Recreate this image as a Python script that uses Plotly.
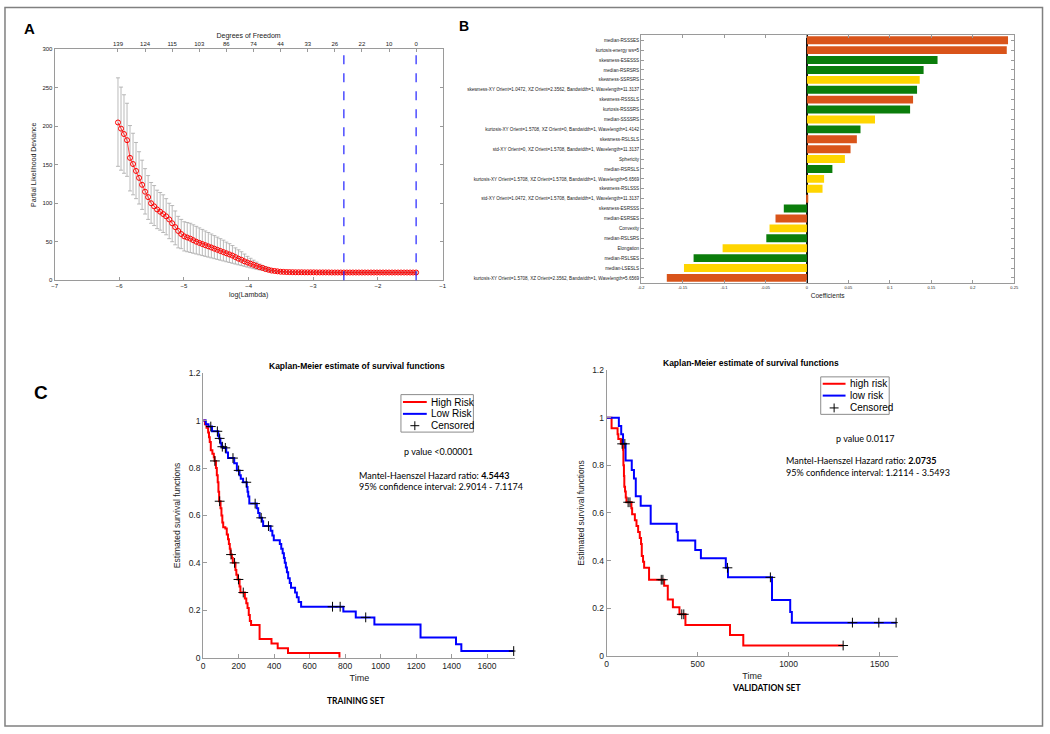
import plotly.graph_objects as go

W, H = 1050, 734

# ---------------- panel A : lasso cross-validation ----------------
log_lambda = [
    -6.020, -5.973, -5.927, -5.880, -5.834, -5.787, -5.741, -5.694, -5.647, -5.601,
    -5.554, -5.508, -5.461, -5.415, -5.368, -5.321, -5.275, -5.228, -5.182, -5.135,
    -5.089, -5.042, -4.995, -4.949, -4.902, -4.856, -4.809, -4.763, -4.716, -4.670,
    -4.623, -4.576, -4.530, -4.483, -4.437, -4.390, -4.344, -4.297, -4.250, -4.204,
    -4.157, -4.111, -4.064, -4.018, -3.971, -3.924, -3.878, -3.831, -3.785, -3.738,
    -3.692, -3.645, -3.598, -3.552, -3.505, -3.459, -3.412, -3.366, -3.319, -3.273,
    -3.226, -3.179, -3.133, -3.086, -3.040, -2.993, -2.947, -2.900, -2.853, -2.807,
    -2.760, -2.714, -2.667, -2.621, -2.574, -2.527, -2.481, -2.434, -2.388, -2.341,
    -2.295, -2.248, -2.202, -2.155, -2.108, -2.062, -2.015, -1.969, -1.922, -1.876,
    -1.829, -1.782, -1.736, -1.689, -1.643, -1.596, -1.550, -1.503, -1.457, -1.410,
]
deviance = [
    205, 197, 190, 182, 159, 151, 142, 133, 124, 115,
    108, 100, 96, 92, 89, 86, 83, 79, 74, 69,
    64, 60, 57, 55.5, 54, 52, 50, 48.5, 47, 45.5,
    44, 42.5, 41, 39.5, 38, 36.5, 35, 33.5, 32, 30,
    28, 26.5, 24.5, 23, 21.5, 20, 18.5, 17, 16, 14.5,
    13.5, 12.5, 12, 11.5, 11, 10.8, 10.6, 10.5, 10.4, 10.3,
    10.3, 10.3, 10.2, 10.2, 10.2, 10.2, 10.1, 10.1, 10.1, 10.1,
    10.1, 10.0, 10.0, 10.0, 10.0, 10.0, 10.0, 10.0, 10.0, 10.0,
    10.0, 10.0, 10.0, 10.0, 10.0, 10.0, 10.0, 10.0, 10.0, 10.0,
    10.0, 10.0, 10.0, 10.0, 10.0, 10.0, 10.0, 10.0, 10.0, 10.0,
]
dev_upper = [
    263, 251, 241, 230, 201, 191, 179, 167, 156, 145,
    136, 127, 123, 117, 114, 111, 106, 100, 97, 90,
    83, 79, 76, 75, 74, 72, 70, 68, 66, 64,
    62, 60, 58, 56, 54, 52, 49.5, 47.5, 45, 42,
    39.5, 37, 34, 31, 28.5, 26, 23.5, 21, 19, 17.5,
    16, 14.5, 13, 12, 11.8, 11.6, 11.5, 11.4, 11.3, 11.2,
    11.2, 11.2, 11.1, 11.1, 11.1, 11.1, 11.0, 11.0, 11.0, 11.0,
    11.0, 10.9, 10.9, 10.9, 10.9, 10.9, 10.9, 10.9, 10.9, 10.9,
    10.9, 10.9, 10.9, 10.9, 10.9, 10.9, 10.9, 10.9, 10.9, 10.9,
    10.9, 10.9, 10.9, 10.9, 10.9, 10.9, 10.9, 10.9, 10.9, 10.9,
]
dev_lower = [
    148, 143, 139, 135, 116, 111, 106, 99, 92, 86,
    79, 74, 71, 67, 65, 62, 59, 54, 50, 46,
    42, 41, 38, 37, 36, 35, 34, 33, 32, 31,
    30, 29, 28, 27, 26, 25, 24, 23, 22, 21,
    20, 19, 18, 17, 16, 15, 14.2, 13.5, 13, 12.2,
    11.5, 11, 10.5, 10, 9.8, 9.6, 9.5, 9.5, 9.4, 9.4,
    9.4, 9.4, 9.3, 9.3, 9.3, 9.3, 9.2, 9.2, 9.2, 9.2,
    9.2, 9.1, 9.1, 9.1, 9.1, 9.1, 9.1, 9.1, 9.1, 9.1,
    9.1, 9.1, 9.1, 9.1, 9.1, 9.1, 9.1, 9.1, 9.1, 9.1,
    9.1, 9.1, 9.1, 9.1, 9.1, 9.1, 9.1, 9.1, 9.1, 9.1,
]
df_tick_lambda = [-6.020, -5.601, -5.182, -4.763, -4.344, -3.924,
                  -3.505, -3.086, -2.667, -2.248, -1.829, -1.410]
df_labels = ["139", "124", "115", "103", "86", "74", "44", "33", "26", "22", "10", "0"]
lambda_marks = [-2.527, -1.410]

# ---------------- panel B : lasso coefficients ----------------
features = [
    "median-RSSSES",
    "kurtosis-energy ws=5",
    "skewness-ESESSS",
    "median-RSRSRS",
    "skewness-SSRSRS",
    "skewness-XY Orient=1.0472, XZ Orient=2.3562, Bandwidth=1, Wavelength=11.3137",
    "skewness-RSSSLS",
    "kurtosis-RSSSRS",
    "median-SSSSRS",
    "kurtosis-XY Orient=1.5708, XZ Orient=0, Bandwidth=1, Wavelength=1.4142",
    "skewness-RSLSLS",
    "std-XY Orient=0, XZ Orient=1.5708, Bandwidth=1, Wavelength=11.3137",
    "Sphericity",
    "median-RSRSLS",
    "kurtosis-XY Orient=1.5708, XZ Orient=1.5708, Bandwidth=1, Wavelength=5.6569",
    "skewness-RSLSSS",
    "std-XY Orient=1.0472, XZ Orient=1.5708, Bandwidth=1, Wavelength=11.3137",
    "skewness-ESRSSS",
    "median-ESRSES",
    "Convexity",
    "median-RSLSRS",
    "Elongation",
    "median-RSLSES",
    "median-LSESLS",
    "kurtosis-XY Orient=1.5708, XZ Orient=2.3562, Bandwidth=1, Wavelength=5.6569",
]
coefs = [0.2425, 0.241, 0.1575, 0.1407, 0.136, 0.1328, 0.128, 0.1244, 0.0821, 0.0646,
         0.0602, 0.0526, 0.0458, 0.0307, 0.0207, 0.0188, 0.0016, -0.0279, -0.0379,
         -0.0451, -0.049, -0.1017, -0.1367, -0.1483, -0.169]
groups = ["O", "O", "G", "G", "Y", "G", "O", "G", "Y", "G", "O", "O", "Y",
          "G", "Y", "Y", "O", "G", "O", "Y", "G", "Y", "G", "Y", "O"]
coef_ticks = [-0.2, -0.15, -0.1, -0.05, 0, 0.05, 0.1, 0.15, 0.2, 0.25]
coef_tick_text = ["-0.2", "-0.15", "-0.1", "-0.05", "0", "0.05", "0.1", "0.15", "0.2", "0.25"]

# ---------------- panel C : Kaplan-Meier ----------------
train_high_t = [0, 10, 19, 28, 33, 37, 43, 52, 60, 64, 72, 77, 82, 86, 90, 98, 103, 108, 113, 125,
                133, 140, 145, 150, 154, 162, 167, 182, 187, 194, 205, 210, 235, 243, 250, 257,
                263, 270, 318, 385, 420, 478, 768]
train_high_s = [1.0, 0.985, 0.97, 0.95, 0.93, 0.91, 0.875, 0.86, 0.845, 0.83, 0.80, 0.77, 0.74,
                0.70, 0.66, 0.63, 0.60, 0.57, 0.55, 0.545, 0.52, 0.50, 0.48, 0.46, 0.435, 0.42,
                0.40, 0.37, 0.35, 0.33, 0.30, 0.275, 0.25, 0.23, 0.21, 0.18, 0.155, 0.138,
                0.079, 0.06, 0.04, 0.02, 0.0]
train_high_cens_t = [66, 93, 157, 177, 199, 226]
train_high_cens_s = [0.83, 0.66, 0.435, 0.40, 0.33, 0.275]

train_low_t = [0, 15, 30, 50, 85, 90, 97, 103, 112, 130, 140, 175, 190, 205, 212, 225, 246, 250,
               254, 260, 302, 310, 318, 332, 338, 380, 390, 398, 432, 440, 448, 455, 460, 466,
               472, 479, 488, 495, 518, 528, 538, 552, 790, 860, 965, 1225, 1425, 1455, 1750]
train_low_s = [1.0, 0.985, 0.975, 0.955, 0.935, 0.925, 0.905, 0.89, 0.885, 0.865, 0.842, 0.82,
               0.79, 0.77, 0.755, 0.74, 0.72, 0.70, 0.68, 0.65, 0.63, 0.61, 0.59, 0.575, 0.555,
               0.535, 0.515, 0.495, 0.48, 0.46, 0.44, 0.42, 0.40, 0.38, 0.36, 0.335, 0.315,
               0.295, 0.275, 0.255, 0.235, 0.215, 0.195, 0.17, 0.14, 0.085, 0.057, 0.028, 0.028]
train_low_cens_t = [43, 80, 93, 108, 125, 168, 200, 243, 293, 327, 368, 729, 772, 916, 1750]
train_low_cens_s = [0.975, 0.955, 0.925, 0.89, 0.885, 0.842, 0.79, 0.74, 0.65, 0.59, 0.555,
                    0.215, 0.215, 0.17, 0.028]

val_high_t = [0, 27, 60, 64, 78, 90, 92, 95, 97, 101, 105, 109, 136, 140, 155, 164, 173, 182,
              189, 193, 200, 206, 233, 316, 336, 364, 400, 433, 678, 751, 1300]
val_high_s = [1.0, 0.955, 0.93, 0.91, 0.89, 0.865, 0.80, 0.755, 0.71, 0.69, 0.665, 0.645, 0.62,
              0.595, 0.57, 0.545, 0.52, 0.495, 0.47, 0.42, 0.395, 0.37, 0.32, 0.295, 0.237,
              0.205, 0.175, 0.13, 0.088, 0.044, 0.044]
val_high_cens_t = [85, 118, 128, 300, 309, 413, 424, 1300]
val_high_cens_s = [0.89, 0.645, 0.645, 0.32, 0.32, 0.175, 0.175, 0.044]

val_low_t = [0, 67, 80, 90, 104, 138, 150, 160, 187, 242, 385, 391, 487, 518, 655, 667, 909,
             1009, 1018, 1591]
val_low_s = [1.0, 0.965, 0.93, 0.89, 0.82, 0.78, 0.745, 0.67, 0.63, 0.555, 0.52, 0.485, 0.445,
             0.41, 0.37, 0.33, 0.235, 0.185, 0.14, 0.14]
val_low_cens_t = [100, 664, 900, 1351, 1496, 1591]
val_low_cens_s = [0.89, 0.37, 0.33, 0.14, 0.14, 0.14]


def fx(x):
    return x / W


def fy(y):
    return 1 - y / H


gray = "#9a9a9a"
txt = "#222222"
group_colors = {"O": "#D9541A", "G": "#0B7D0B", "Y": "#FFD500"}

fig = go.Figure()

# A
err_plus = [u - m for u, m in zip(dev_upper, deviance)]
err_minus = [m - l for m, l in zip(deviance, dev_lower)]
fig.add_trace(go.Scatter(
    x=log_lambda, y=deviance, mode="lines+markers", xaxis="x", yaxis="y",
    line=dict(color="red", width=0.7),
    marker=dict(symbol="circle-open", size=5, color="red", line=dict(width=1)),
    error_y=dict(type="data", symmetric=False, array=err_plus, arrayminus=err_minus,
                 color="#a8a8a8", thickness=0.8, width=2),
    showlegend=False))
# same points on the top (degrees of freedom) axis, invisible, so that axis gets drawn
fig.add_trace(go.Scatter(x=log_lambda, y=deviance, mode="lines", xaxis="x2", yaxis="y",
                         line=dict(width=0), opacity=0, hoverinfo="skip", showlegend=False))

# B
fig.add_trace(go.Bar(
    x=coefs, y=features, orientation="h", xaxis="x3", yaxis="y3", width=0.8,
    marker=dict(color=[group_colors[g] for g in groups], line=dict(width=0)),
    showlegend=False))


# C
def km(t, s, color, ax):
    fig.add_trace(go.Scatter(x=t, y=s, mode="lines", line=dict(color=color, width=2, shape="hv"),
                             xaxis="x" + ax, yaxis="y" + ax, showlegend=False))


def cens(t, s, ax):
    fig.add_trace(go.Scatter(x=t, y=s, mode="markers", xaxis="x" + ax, yaxis="y" + ax,
                             marker=dict(symbol="cross-thin", size=7, color="black",
                                         line=dict(color="black", width=1)),
                             showlegend=False))


km(train_high_t, train_high_s, "#FF0000", "4")
km(train_low_t, train_low_s, "#0000FF", "4")
cens(train_high_cens_t, train_high_cens_s, "4")
cens(train_low_cens_t, train_low_cens_s, "4")
km(val_high_t, val_high_s, "#FF0000", "5")
km(val_low_t, val_low_s, "#0000FF", "5")
cens(val_high_cens_t, val_high_cens_s, "5")
cens(val_low_cens_t, val_low_cens_s, "5")

base = dict(showline=True, linecolor=gray, linewidth=1, ticks="inside", tickcolor=gray,
            showgrid=False, zeroline=False)
small = dict(base, ticklen=3, tickfont=dict(size=6, color=txt))
km_ax = dict(base, ticklen=4, tickfont=dict(size=8.5, color=txt))

shapes = []
for lam in lambda_marks:
    shapes.append(dict(type="line", xref="x", yref="y domain", x0=lam, x1=lam, y0=0, y1=1,
                       line=dict(color="#1f1fff", width=1.2, dash="dash")))

# hand-drawn legends (MATLAB style boxes)
legends = [
    ((401, 395, 474, 433), ["High Risk", "Low Risk", "Censored"], (403, 427, 429), (402.5, 414.5, 426.5)),
    ((824, 377, 893, 415), ["high risk", "low risk", "Censored"], (826, 849, 851), (384, 396, 408.5)),
]
annotations = []
for (bx0, by0, bx1, by1), names, (lx0, lx1, tx), ys in legends:
    shapes.append(dict(type="rect", xref="paper", yref="paper", x0=fx(bx0), x1=fx(bx1),
                       y0=fy(by1), y1=fy(by0), line=dict(color="#8c8c8c", width=1),
                       fillcolor="white"))
    for col, yy in zip(["#FF0000", "#0000FF"], ys[:2]):
        shapes.append(dict(type="line", xref="paper", yref="paper", x0=fx(lx0), x1=fx(lx1),
                           y0=fy(yy), y1=fy(yy), line=dict(color=col, width=2)))
    cx = (lx0 + lx1) / 2
    shapes.append(dict(type="line", xref="paper", yref="paper", x0=fx(cx - 4.5), x1=fx(cx + 4.5),
                       y0=fy(ys[2]), y1=fy(ys[2]), line=dict(color="black", width=1)))
    shapes.append(dict(type="line", xref="paper", yref="paper", x0=fx(cx), x1=fx(cx),
                       y0=fy(ys[2] - 4.5), y1=fy(ys[2] + 4.5), line=dict(color="black", width=1)))
    for name, yy in zip(names, ys):
        annotations.append(dict(text=name, x=fx(tx), y=fy(yy), xref="paper", yref="paper",
                                xanchor="left", yanchor="middle", showarrow=False,
                                font=dict(size=10, color="black")))

shapes.append(dict(type="rect", xref="paper", yref="paper", x0=fx(2), x1=fx(1047.5),
                   y0=fy(731), y1=fy(2.5), line=dict(color="#808080", width=1.5)))


def note(text, x, y, size=9, anchor="left", family="Lato", bold=False):
    if bold:
        text = "<b>" + text + "</b>"
    annotations.append(dict(text=text, x=fx(x), y=fy(y), xref="paper", yref="paper",
                            xanchor=anchor, yanchor="middle", showarrow=False,
                            font=dict(size=size, family=family, color="black")))


note("A", 27, 24, 15, "center", "Liberation Sans, Arial", True)
note("B", 465, 21, 14, "center", "Liberation Sans, Arial", True)
note("C", 38, 393, 19, "center", "Liberation Sans, Arial", True)
note("Kaplan-Meier estimate of survival functions", 357, 366, 8.5, "center", "Liberation Sans, Arial", True)
note("Kaplan-Meier estimate of survival functions", 754, 363, 8.5, "center", "Liberation Sans, Arial", True)
note("p value &lt;0.00001", 439, 453, 9, "center")
note("Mantel-Haenszel Hazard ratio: <b>4.5443</b>", 357, 477)
note("95% confidence interval: 2.9014 - 7.1174", 357, 488)
note("p value 0.0117", 869, 439, 9, "center")
note("Mantel-Haenszel Hazard ratio: <b>2.0735</b>", 787, 462)
note("95% confidence interval: 1.2114 - 3.5493", 787, 474)
note("TRAINING SET", 356, 706, 8.5, "center", bold=True)
note("VALIDATION SET", 769, 692, 8.5, "center", bold=True)

fig.update_layout(
    width=W, height=H, margin=dict(l=0, r=0, t=0, b=0),
    plot_bgcolor="white", paper_bgcolor="white",
    font=dict(family="Liberation Sans, Arial", color=txt),
    showlegend=False, shapes=shapes, annotations=annotations,
    xaxis=dict(small, domain=[fx(52), fx(443)], anchor="y", range=[-7, -1],
               tickvals=[-7, -6, -5, -4, -3, -2, -1],
               title=dict(text="log(Lambda)", font=dict(size=7, color=txt), standoff=3)),
    xaxis2=dict(small, overlaying="x", anchor="y", side="top", range=[-7, -1],
                tickvals=df_tick_lambda, ticktext=df_labels,
                title=dict(text="Degrees of Freedom", font=dict(size=7, color=txt), standoff=1)),
    yaxis=dict(small, domain=[fy(279), fy(45)], anchor="x", range=[0, 300], mirror="ticks",
               tickvals=[0, 50, 100, 150, 200, 250, 300],
               title=dict(text="Partial Likelihood Deviance", font=dict(size=7, color=txt), standoff=4)),
    xaxis3=dict(base, ticklen=3, tickfont=dict(size=4, color=txt), domain=[fx(643), fx(1019)],
                anchor="y3", range=[-0.2, 0.25], mirror="ticks",
                tickvals=coef_ticks, ticktext=coef_tick_text,
                zeroline=True, zerolinecolor="#111111", zerolinewidth=2,
                title=dict(text="Coefficients", font=dict(size=6.5, color=txt), standoff=4)),
    yaxis3=dict(base, ticklen=3, tickfont=dict(size=4.6, color=txt), domain=[fy(281.7), fy(30.7)],
                anchor="x3", type="category", autorange="reversed", mirror="ticks"),
    xaxis4=dict(km_ax, domain=[fx(201.7), fx(516.4)], anchor="y4", range=[0, 1760],
                tickvals=[0, 200, 400, 600, 800, 1000, 1200, 1400, 1600],
                title=dict(text="Time", font=dict(size=9, color=txt), standoff=4)),
    yaxis4=dict(km_ax, domain=[fy(661.7), fy(373.3)], anchor="x4", range=[0, 1.2],
                tickvals=[0, 0.2, 0.4, 0.6, 0.8, 1, 1.2],
                ticktext=["0", "0.2", "0.4", "0.6", "0.8", "1", "1.2"],
                title=dict(text="Estimated survival functions", font=dict(size=8.5, color=txt), standoff=6)),
    xaxis5=dict(km_ax, domain=[fx(608.3), fx(901.6)], anchor="y5", range=[0, 1600],
                tickvals=[0, 500, 1000, 1500],
                title=dict(text="Time", font=dict(size=9, color=txt), standoff=4)),
    yaxis5=dict(km_ax, domain=[fy(660), fy(370)], anchor="x5", range=[0, 1.2],
                tickvals=[0, 0.2, 0.4, 0.6, 0.8, 1, 1.2],
                ticktext=["0", "0.2", "0.4", "0.6", "0.8", "1", "1.2"],
                title=dict(text="Estimated survival functions", font=dict(size=8.5, color=txt), standoff=6)),
)

# page body has a default 8px margin; drop it so the figure sits at the window origin
fig.write_html("out.html", config={"displayModeBar": False},
               post_script="document.body.style.margin = '0';")
